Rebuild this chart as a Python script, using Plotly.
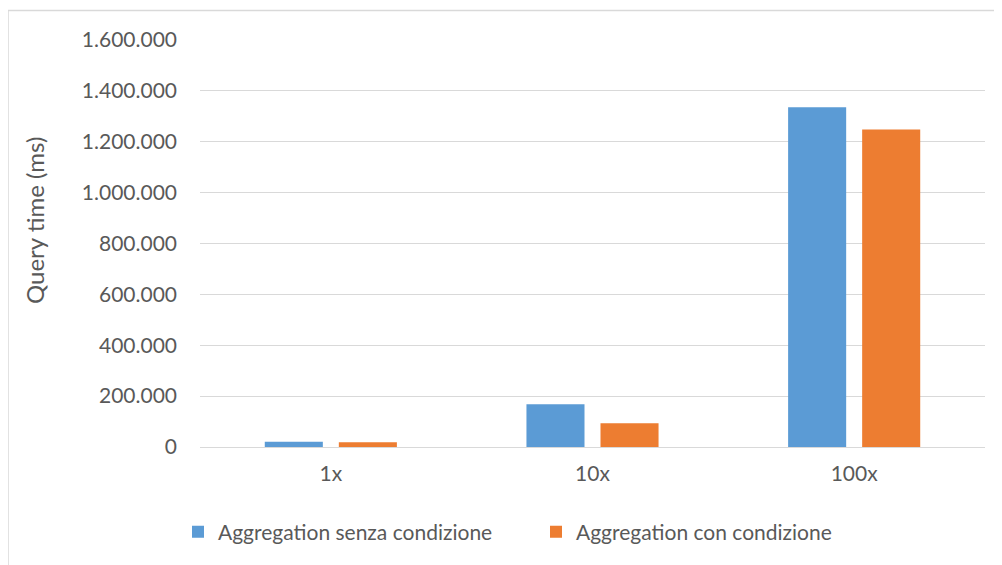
import plotly.graph_objects as go

categories = ["1x", "10x", "100x"]
senza = [21000, 168000, 1336000]
con = [18500, 93000, 1248000]
series_names = ["Aggregation senza condizione", "Aggregation con condizione"]
colors = ["#5B9BD5", "#ED7D31"]
y_ticks = [0, 200000, 400000, 600000, 800000, 1000000, 1200000, 1400000, 1600000]
y_title = "Query time (ms)"

FONT = "Lato, 'Open Sans', sans-serif"
GREY = "#595959"

# page body has an 8px margin; plot area target (absolute): x 200-985, y 40-447
OFF = 8
L, R, T, B = 200 - OFF, 1002 - (985 - OFF), 40 - OFF, 565 - (447 - OFF)
PW, PH = 785, 407

fig = go.Figure()
fig.add_trace(go.Bar(x=categories, y=senza, name=series_names[0], marker_color=colors[0],
                     marker_line_width=0))
fig.add_trace(go.Bar(x=categories, y=con, name=series_names[1], marker_color=colors[1],
                     marker_line_width=0))

fig.update_layout(
    width=1002, height=565,
    margin=dict(l=L, r=R, t=T, b=B),
    paper_bgcolor="white", plot_bgcolor="white",
    barmode="group", bargap=0.434, bargroupgap=0.216,
    separators=",.",
    font=dict(family=FONT, size=21, color=GREY),
    showlegend=True,
    legend=dict(orientation="h", x=(192 - 14 - 200) / PW, xanchor="left",
                y=(447 - 532) / PH, yanchor="middle",
                entrywidth=313, entrywidthmode="pixels",
                font=dict(size=21, color=GREY), traceorder="normal"),
    xaxis=dict(showgrid=False, showline=False, ticks="", ticklabelstandoff=12,
               tickfont=dict(size=21, color=GREY)),
    yaxis=dict(range=[0, 1600000], tickvals=y_ticks, tickformat=",d",
               showgrid=True, gridcolor="#D9D9D9", gridwidth=1,
               zeroline=True, zerolinecolor="#D9D9D9", zerolinewidth=1,
               showline=False, ticks="", ticklen=0, ticklabelstandoff=22,
               tickfont=dict(size=21, color=GREY)),
    annotations=[dict(text=y_title, xref="paper", yref="paper",
                      x=(35 - 200) / PW, y=(447 - 221) / PH,
                      xanchor="center", yanchor="middle", textangle=-90,
                      showarrow=False, font=dict(size=24, color=GREY))],
    shapes=[dict(type="rect", xref="paper", yref="paper",
                 x0=(8 - 200) / PW, x1=(1010 - 200) / PW,
                 y0=-0.4, y1=1 + (40 - 10.5) / PH,
                 line=dict(color="#D9D9D9", width=1.5), fillcolor="rgba(0,0,0,0)",
                 layer="below")],
)

fig.write_html("out.html")
